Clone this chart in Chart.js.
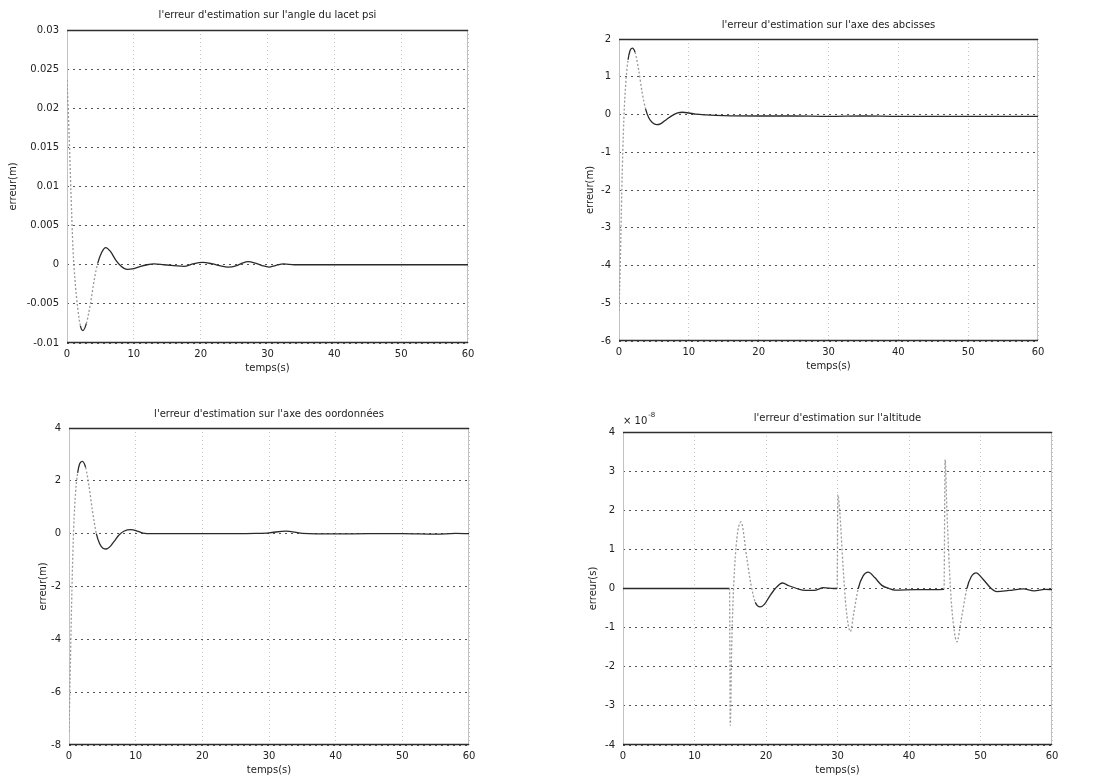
<!DOCTYPE html>
<html>
<head>
<meta charset="utf-8">
<script src="https://cdn.jsdelivr.net/npm/chart.js@4.4.1/dist/chart.umd.min.js"></script>
<style>
  body { margin: 0; background: #fff; }
  #page { position: relative; width: 1095px; height: 780px; overflow: hidden; background: #fff; }
  canvas { position: absolute; }
</style>
</head>
<body>
<div id="page">
  <canvas id="psiChart"></canvas>
  <canvas id="xChart"></canvas>
  <canvas id="yChart"></canvas>
  <canvas id="altChart"></canvas>
</div>
<script>
// shared x axis
const timeTicks = [0, 10, 20, 30, 40, 50, 60];

// erreur sur le lacet psi
const psiTime = [0, 0.3, 0.6, 0.9, 1.2, 1.6, 2.0, 2.4, 2.9, 3.5, 4.1, 4.6, 5.2, 5.8, 6.5, 7.3, 8.1, 9.0, 10.0, 11.0,
  12, 13, 14.5, 16, 17.5, 18.8, 20.3, 21.8, 22.8, 24.1, 25.4, 26.2, 27.1, 28.2, 29.2, 30.2, 31.2, 32.4, 34, 40, 50, 60];
const psiErr = [0.0236, 0.017, 0.009, 0.002, -0.002, -0.0055, -0.0078, -0.0084, -0.0075, -0.005,
  -0.0018, 0.0002, 0.0016, 0.0022, 0.0017, 0.0006, -0.0002, -0.0006, -0.0005, -0.0002,
  0, 0.0001, 0, -0.0001, -0.0002, 0.0001, 0.0003, 0.0001, -0.0001, -0.0003,
  -0.0001, 0.0002, 0.0004, 0.0002, -0.0001, -0.0003, -0.0001, 0.0001, 0, 0, 0, 0];
const psiTicks = [-0.01, -0.005, 0, 0.005, 0.01, 0.015, 0.02, 0.025, 0.03];

// erreur sur l'axe des abcisses
const xTime = [0, 0.2, 0.4, 0.7, 1.0, 1.3, 1.6, 1.9, 2.3, 2.8, 3.3, 3.8, 4.3, 4.8, 5.4, 6.0, 6.8, 7.6, 8.4, 9.1,
  10, 11, 12.5, 15, 20, 25, 30, 35, 40, 45, 50, 55, 60];
const xErr = [-5.2, -3.8, -2.0, -0.1, 0.9, 1.45, 1.7, 1.76, 1.65, 1.2, 0.6, 0.15, -0.1, -0.22, -0.27, -0.24, -0.13, -0.03, 0.04, 0.06,
  0.04, 0.01, -0.01, -0.03, -0.04, -0.04, -0.05, -0.04, -0.05, -0.05, -0.05, -0.05, -0.05];
const xTicks = [-6, -5, -4, -3, -2, -1, 0, 1, 2];

// erreur sur l'axe des ordonnees
const yTime = [0, 0.2, 0.45, 0.7, 1.0, 1.3, 1.6, 2.0, 2.5, 3.0, 3.5, 4.1, 4.6, 5.1, 5.6, 6.2, 6.8, 7.5, 8.3, 9.3,
  10.2, 11.1, 12.5, 15, 20, 25, 28, 30, 32.5, 35, 40, 45, 50, 55, 58, 60];
const yErr = [-7.5, -5.0, -2.0, 0.2, 1.6, 2.3, 2.65, 2.74, 2.5, 1.8, 0.9, 0, -0.38, -0.55, -0.58, -0.48, -0.28, -0.05, 0.1, 0.15,
  0.1, 0.02, 0, 0, 0, 0, 0.01, 0.03, 0.1, 0.01, -0.01, 0, 0, -0.02, 0.01, 0];
const yTicks = [-8, -6, -4, -2, 0, 2, 4];

// erreur sur l'altitude (x 10^-8)
const altTime = [0, 14.9, 15, 15.2, 15.6, 16.5, 17.3, 17.9, 18.5, 19.2, 19.8, 20.5, 21.3, 22.3, 23.2, 24.3, 25.5, 27, 28, 29.5,
  29.95, 30.05, 30.3, 30.8, 31.2, 31.8, 32.3, 32.9, 33.6, 34.3, 35.2, 36.2, 37.2, 38, 41, 44.9, 45.05, 45.3, 45.8, 46.2,
  46.7, 47.3, 48.1, 48.7, 49.4, 50.3, 51.5, 52.3, 54, 56, 57.5, 59, 60];
const altErr = [0, 0, -3.5, -1.5, 0.5, 1.7, 0.8, 0.1, -0.35, -0.47, -0.4, -0.2, 0, 0.14, 0.07, 0, -0.05, -0.04, 0.02, 0,
  0, 2.4, 2.0, 0.5, -0.5, -1.1, -0.6, 0, 0.33, 0.42, 0.28, 0.08, 0, -0.04, -0.03, -0.02, 3.3, 2.0, 0, -0.9,
  -1.36, -0.8, 0, 0.3, 0.4, 0.25, 0, -0.08, -0.05, -0.01, -0.06, -0.02, -0.03];
const altTicks = [-4, -3, -2, -1, 0, 1, 2, 3, 4];

const FONT = 'DejaVu Sans';
const TEXT = '#222';

// solid top/bottom edges like the printed matlab box, plus the exponent label
const frame = {
  id: 'frame',
  beforeDatasetsDraw(chart) {
    const {ctx, chartArea: a} = chart;
    ctx.save();
    ctx.strokeStyle = '#c2c2c2';
    ctx.lineWidth = 1;
    ctx.beginPath();
    ctx.moveTo(a.left + 0.5, a.top); ctx.lineTo(a.left + 0.5, a.bottom);
    ctx.moveTo(a.right - 0.5, a.top); ctx.lineTo(a.right - 0.5, a.bottom);
    ctx.stroke();
    ctx.strokeStyle = '#2e2e2e';
    ctx.lineWidth = 1.4;
    ctx.beginPath();
    ctx.moveTo(a.left, a.top + 0.5); ctx.lineTo(a.right, a.top + 0.5);
    ctx.moveTo(a.left, a.bottom - 0.5); ctx.lineTo(a.right, a.bottom - 0.5);
    ctx.stroke();
    ctx.restore();
  },
  afterDraw(chart, args, opts) {
    if (!opts.exponent) return;
    const {ctx, chartArea: a} = chart;
    ctx.save();
    ctx.fillStyle = TEXT;
    ctx.font = '10px "' + FONT + '"';
    ctx.fillText('\u00d7 10', a.left, a.top - 8);
    const w = ctx.measureText('\u00d7 10').width;
    ctx.font = '7px "' + FONT + '"';
    ctx.fillText(opts.exponent, a.left + w + 1, a.top - 15);
    ctx.restore();
  }
};

const steep = c => Math.abs(c.p1.y - c.p0.y) > 3 * Math.abs(c.p1.x - c.p0.x) + 4;

function makeChart(p, title, yTitle, time, values, ticks, exponent) {
  const cl = p.labelX - 6, ct = p.top - 30;
  const canvas = document.getElementById(p.id);
  canvas.width = p.right + 14 - cl;
  canvas.height = p.bottom + 34 - ct;
  canvas.style.left = cl + 'px';
  canvas.style.top = ct + 'px';
  const padTop = p.titleY - ct - 6;

  return new Chart(canvas, {
    type: 'line',
    data: {
      datasets: [{
        data: time.map((t, i) => ({x: t, y: values[i]})),
        borderColor: '#2a2a2a',
        borderWidth: 1.3,
        pointRadius: 0,
        cubicInterpolationMode: 'monotone',
        segment: {
          borderColor: c => steep(c) ? '#9a9a9a' : undefined,
          borderDash: c => steep(c) ? [2, 2] : undefined
        }
      }]
    },
    options: {
      responsive: false,
      animation: false,
      layout: { padding: { top: 0, right: 14, bottom: 0, left: 0 } },
      plugins: {
        legend: { display: false },
        tooltip: { enabled: false },
        title: {
          display: true,
          text: title,
          fullSize: false,
          color: TEXT,
          font: { family: FONT, size: 10, weight: 'normal' },
          padding: { top: padTop, bottom: 30 - 12 - padTop }
        },
        frame: { exponent: exponent }
      },
      scales: {
        x: {
          type: 'linear',
          min: 0,
          max: 60,
          afterBuildTicks: s => { s.ticks = timeTicks.map(v => ({value: v})); },
          afterFit: s => { s.height = 34; },
          ticks: { callback: v => String(v), padding: 5, maxRotation: 0, color: TEXT, font: { family: FONT, size: 10 } },
          grid: { color: '#c6c6c6', lineWidth: 1, drawTicks: false },
          border: { display: false, dash: [1, 3] },
          title: { display: true, text: 'temps(s)', color: TEXT, font: { family: FONT, size: 10 }, padding: { top: 0, bottom: 3 } }
        },
        y: {
          min: ticks[0],
          max: ticks[ticks.length - 1],
          afterBuildTicks: s => { s.ticks = ticks.map(v => ({value: v})); },
          afterFit: s => { s.width = p.left - cl; },
          ticks: { callback: v => String(v), padding: 8, color: TEXT, font: { family: FONT, size: 10 } },
          grid: { color: '#555', lineWidth: 1, drawTicks: false },
          border: { display: false, dash: [2, 4] },
          title: { display: true, text: yTitle, color: TEXT, font: { family: FONT, size: 10 }, padding: 0 }
        }
      }
    },
    plugins: [frame]
  });
}

makeChart({ id: 'psiChart', left: 67, top: 30, right: 468, bottom: 343, labelX: 13, titleY: 15 },
  "l'erreur d'estimation sur l'angle du lacet psi", 'erreur(m)', psiTime, psiErr, psiTicks);
makeChart({ id: 'xChart', left: 619, top: 39, right: 1038, bottom: 341, labelX: 590, titleY: 25 },
  "l'erreur d'estimation sur l'axe des abcisses", 'erreur(m)', xTime, xErr, xTicks);
makeChart({ id: 'yChart', left: 69, top: 428, right: 469, bottom: 745, labelX: 43, titleY: 414 },
  "l'erreur d'estimation sur l'axe des oordonnées", 'erreur(m)', yTime, yErr, yTicks);
makeChart({ id: 'altChart', left: 623, top: 432, right: 1052, bottom: 745, labelX: 593, titleY: 418 },
  "l'erreur d'estimation sur l'altitude", 'erreur(s)', altTime, altErr, altTicks, '-8');
</script>
</body>
</html>
